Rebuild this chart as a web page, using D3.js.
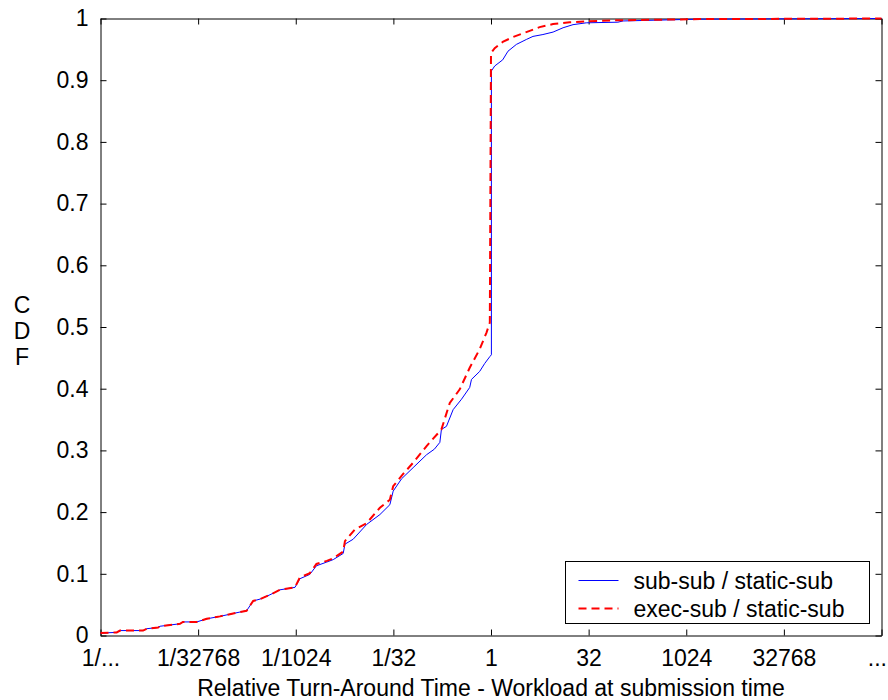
<!DOCTYPE html>
<html>
<head>
<meta charset="utf-8">
<script src="https://cdn.jsdelivr.net/npm/d3@7"></script>
<style>
  body { margin: 0; background: #fff; }
  text { font-family: Arial, "Liberation Sans", Helvetica, sans-serif; }
</style>
</head>
<body>
<div id="chart"></div>
<script>
// x values are log2 of the relative turn-around time
const subSubX = [-20, -19.17, -19.0, -17.82, -17.63, -17.05, -16.95, -15.93, -15.78, -15.07, -14.56, -13.88,
  -12.86, -12.52, -12.18, -11.83, -11.32, -10.81, -10.04, -9.79, -9.28, -8.94, -8.41, -8.08, -7.57, -7.48,
  -7.06, -6.37, -5.69, -5.18, -5.01, -4.58, -3.99, -3.30, -2.9, -2.62, -2.54, -2.28, -1.94, -1.51, -1.09,
  -1.0, -0.58, -0.32, -0.06, 0.02, 0.02, 0.19, 0.6, 0.87, 1.3, 1.81, 2.15, 2.66, 3.18, 3.69, 4.2, 4.88,
  6.5, 6.76, 10.7, 20];
const subSubY = [0.004, 0.005, 0.008, 0.008, 0.011, 0.013, 0.015, 0.019, 0.022, 0.022, 0.027, 0.031,
  0.038, 0.040, 0.056, 0.059, 0.066, 0.074, 0.078, 0.092, 0.099, 0.113, 0.119, 0.123, 0.133, 0.148,
  0.156, 0.180, 0.196, 0.212, 0.234, 0.254, 0.272, 0.293, 0.302, 0.313, 0.334, 0.339, 0.366, 0.383, 0.402,
  0.415, 0.428, 0.441, 0.452, 0.455, 0.915, 0.923, 0.933, 0.947, 0.958, 0.966, 0.971, 0.974, 0.978, 0.985, 0.990, 0.993,
  0.994, 0.996, 0.999, 1.0];

const execSubX = [-20, -19.17, -19.0, -17.82, -17.63, -17.05, -16.95, -15.93, -15.78, -15.07, -14.56, -13.88,
  -12.86, -12.52, -12.18, -11.83, -11.32, -10.81, -10.04, -9.79, -9.28, -8.94, -8.41, -8.08, -7.57, -7.48,
  -6.97, -6.37, -5.69, -5.18, -5.01, -4.52, -3.99, -3.30, -2.54, -2.11, -1.6, -1.09, -0.58, -0.23, -0.06,
  0.0, 0.19, 0.6, 1.13, 1.81, 2.49, 3.18, 4.03, 6.23, 10.7, 20];
const execSubY = [0.004, 0.005, 0.008, 0.008, 0.011, 0.013, 0.015, 0.019, 0.022, 0.022, 0.027, 0.031,
  0.038, 0.040, 0.056, 0.059, 0.066, 0.074, 0.078, 0.094, 0.101, 0.116, 0.121, 0.125, 0.136, 0.153,
  0.172, 0.182, 0.207, 0.220, 0.242, 0.261, 0.280, 0.307, 0.334, 0.377, 0.399, 0.434, 0.464, 0.491, 0.507,
  0.944, 0.952, 0.962, 0.970, 0.978, 0.986, 0.991, 0.994, 0.997, 0.999, 1.0];

const xTicks = [-20, -15, -10, -5, 0, 5, 10, 15, 20];
const xTickLabels = ['1/...', '1/32768', '1/1024', '1/32', '1', '32', '1024', '32768', '...'];
const yTicks = [0, 0.1, 0.2, 0.3, 0.4, 0.5, 0.6, 0.7, 0.8, 0.9, 1];
const seriesNames = ['sub-sub / static-sub', 'exec-sub / static-sub'];

const W = 888, H = 700;
const margin = { top: 18.5, left: 100.5 };
const width = 781, height = 617;
const fontSize = 23;
const tickLen = 6;

const svg = d3.select('#chart').append('svg')
  .attr('width', W).attr('height', H);

const g = svg.append('g')
  .attr('transform', `translate(${margin.left},${margin.top})`);

const x = d3.scaleLinear().domain([-20, 20]).range([0, width]);
const y = d3.scaleLinear().domain([0, 1]).range([height, 0]);

// inward ticks on all four sides (matlab box style)
const bottomAxis = g.append('g')
  .attr('transform', `translate(0,${height})`)
  .call(d3.axisBottom(x).tickValues(xTicks).tickSizeInner(-tickLen).tickSizeOuter(0)
    .tickPadding(14).tickFormat((d, i) => xTickLabels[i]));
const topAxis = g.append('g')
  .call(d3.axisTop(x).tickValues(xTicks).tickSizeInner(-tickLen).tickSizeOuter(0).tickFormat(''));
const leftAxis = g.append('g')
  .call(d3.axisLeft(y).tickValues(yTicks).tickSizeInner(-tickLen).tickSizeOuter(0)
    .tickPadding(12).tickFormat(d3.format('~g')));
const rightAxis = g.append('g')
  .attr('transform', `translate(${width},0)`)
  .call(d3.axisRight(y).tickValues(yTicks).tickSizeInner(-tickLen).tickSizeOuter(0).tickFormat(''));

[bottomAxis, topAxis, leftAxis, rightAxis].forEach(a => {
  a.select('.domain').attr('stroke', '#000').attr('stroke-width', 1);
  a.selectAll('.tick line').attr('stroke', '#000');
  a.selectAll('text')
    .style('font-size', fontSize + 'px')
    .style('font-family', 'Arial, "Liberation Sans", sans-serif')
    .attr('fill', '#000');
});

// keep the last "..." label inside the window
bottomAxis.selectAll('.tick text')
  .filter((d, i) => i === xTicks.length - 1)
  .attr('text-anchor', 'end')
  .attr('dx', 5);

// lines
const line = (xs, ys) => d3.line()
  .x(i => x(xs[i]))
  .y(i => y(ys[i]))(d3.range(xs.length));

g.append('path')
  .attr('d', line(subSubX, subSubY))
  .attr('fill', 'none')
  .attr('stroke', '#0000ff')
  .attr('stroke-width', 1);

g.append('path')
  .attr('d', line(execSubX, execSubY))
  .attr('fill', 'none')
  .attr('stroke', '#ff0000')
  .attr('stroke-width', 2)
  .attr('stroke-dasharray', '8,5');

// axis labels
svg.append('text')
  .attr('x', margin.left + width / 2)
  .attr('y', 696)
  .attr('text-anchor', 'middle')
  .style('font-size', fontSize + 'px')
  .text('Relative Turn-Around Time - Workload at submission time');

['C', 'D', 'F'].forEach((ch, i) => {
  svg.append('text')
    .attr('x', 22)
    .attr('y', 313 + i * 26)
    .attr('text-anchor', 'middle')
    .style('font-size', fontSize + 'px')
    .text(ch);
});

// legend
const legend = svg.append('g').attr('transform', 'translate(565.5,561.5)');
legend.append('rect')
  .attr('width', 304).attr('height', 62)
  .attr('fill', '#fff').attr('stroke', '#000').attr('stroke-width', 1);

const legendStyles = [
  { color: '#0000ff', width: 1, dash: null },
  { color: '#ff0000', width: 2, dash: '8,5' }
];
seriesNames.forEach((name, i) => {
  const row = legend.append('g').attr('transform', `translate(0,${19 + i * 28})`);
  row.append('line')
    .attr('x1', 13).attr('x2', 53)
    .attr('stroke', legendStyles[i].color)
    .attr('stroke-width', legendStyles[i].width)
    .attr('stroke-dasharray', legendStyles[i].dash);
  row.append('text')
    .attr('x', 68)
    .attr('y', 8)
    .style('font-size', fontSize + 'px')
    .text(name);
});
</script>
</body>
</html>
